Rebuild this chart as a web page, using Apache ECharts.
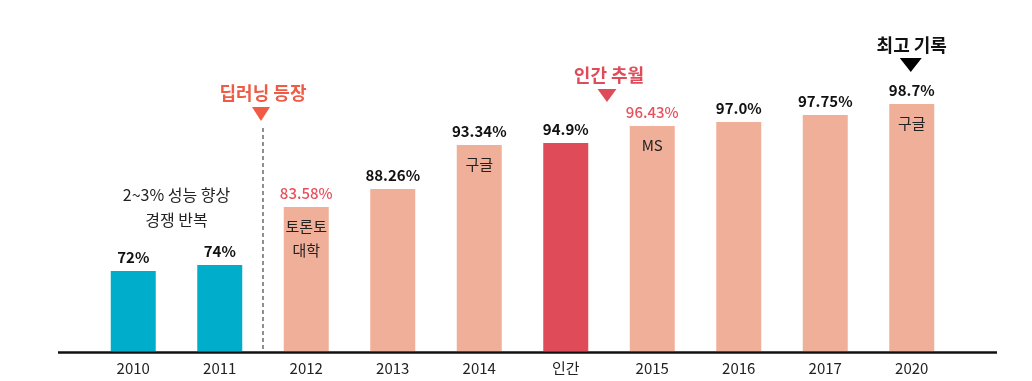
<!DOCTYPE html>
<html><head><meta charset="utf-8">
<script src="https://cdn.jsdelivr.net/npm/echarts@6/dist/echarts.min.js"></script>
<style>html,body{margin:0;padding:0;background:#fff}#c{width:1032px;height:381px}</style>
</head><body><div id="c"></div>
<script>
// categories (x axis tick labels)
var categories = ['2010','2011','2012','2013','2014','인간','2015','2016','2017','2020'];
// accuracy labels shown above the bars
var accuracyLabels = ['72%','74%','83.58%','88.26%','93.34%','94.9%','96.43%','97.0%','97.75%','98.7%'];
// bar heights as drawn in the picture (illustrative, non-linear scale)
var barHeights = [80, 86, 144, 162, 206, 208, 225, 229, 236, 247];
// bar group: 0 = before deep learning, 1 = deep learning, 2 = human
var barGroup = [0,0,1,1,1,2,1,1,1,1];
// labels inside bars
var innerLabels = ['','','토론토\n대학','','구글','','MS','','','구글'];
// which value labels are highlighted red
var redLabel = [false,false,true,false,false,false,true,false,false,false];

var groupColors = ['#00aecb','#f0af99','#e04b5a'];
var FONT = '"Noto Sans CJK KR", "Noto Sans", sans-serif';

var chart = echarts.init(document.getElementById('c'));
var data = barHeights.map(function(v,i){
  return {
    value: v,
    itemStyle:{color: groupColors[barGroup[i]]},
    label:{color: redLabel[i] ? '#e8505b' : '#111', fontWeight: redLabel[i] ? 500 : 'bold'}
  };
});
var innerData = barHeights.map(function(v,i){ return v; });

chart.setOption({
  animation:false,
  grid:{left:90,right:77,top:51,bottom:30},
  xAxis:{type:'category',data:categories,
    axisLine:{show:false},axisTick:{show:false},
    axisLabel:{color:'#222',fontSize:15,fontFamily:FONT,margin:10}},
  yAxis:{type:'value',min:0,max:300,show:false},
  series:[{
    type:'bar',data:data,barWidth:45,z:2,
    label:{show:true,position:'top',distance:6,fontSize:15,fontFamily:FONT,
      formatter:function(p){return accuracyLabels[p.dataIndex];}}
  },{
    type:'bar',data:innerData,barWidth:45,barGap:'-100%',z:3,
    itemStyle:{color:'transparent'},
    label:{show:true,position:'insideTop',distance:7,fontSize:15,lineHeight:24,
      fontFamily:FONT,color:'#222',
      formatter:function(p){return innerLabels[p.dataIndex];}}
  }]
});

function px(cat){return chart.convertToPixel({xAxisIndex:0},cat);}
function py(v){return chart.convertToPixel({yAxisIndex:0},v);}
var base = py(0);
var xDL = (px('2011')+px('2012'))/2;
var xHU = (px('인간')+px('2015'))/2;
var xTop = px('2020');
var xNote = (px('2010')+px('2011'))/2;
function tri(cx,top,w,h,color){
  return {type:'polygon',shape:{points:[[cx-w/2,top],[cx+w/2,top],[cx,top+h]]},style:{fill:color},z:10};
}
function txt(cx,cy,s,color,size,weight){
  return {type:'text',x:cx,y:cy,style:{text:s,fill:color,font:(weight||'normal')+' '+size+'px '+FONT,align:'center',verticalAlign:'middle'},z:10};
}
chart.setOption({graphic:[
  {type:'line',shape:{x1:58,y1:base+1.5,x2:997,y2:base+1.5},style:{stroke:'#111',lineWidth:2.5},z:10},
  {type:'line',shape:{x1:xDL,y1:128,x2:xDL,y2:base},style:{stroke:'#555',lineWidth:1.3,lineDash:[4,3]},z:10},
  tri(xDL-2,107,18,14,'#ef5b45'),
  txt(xDL,93,'딥러닝 등장','#ef5b45',18,'bold'),
  tri(xHU-2,89,19,13,'#e04b5a'),
  txt(xHU,75,'인간 추월','#e04b5a',18,'bold'),
  tri(xTop-1,58,22,14,'#000'),
  txt(xTop,45,'최고 기록','#111',18,'bold'),
  txt(xNote,195,'2~3% 성능 향상','#222',16),
  txt(xNote,220,'경쟁 반복','#222',16)
]});
</script></body></html>
